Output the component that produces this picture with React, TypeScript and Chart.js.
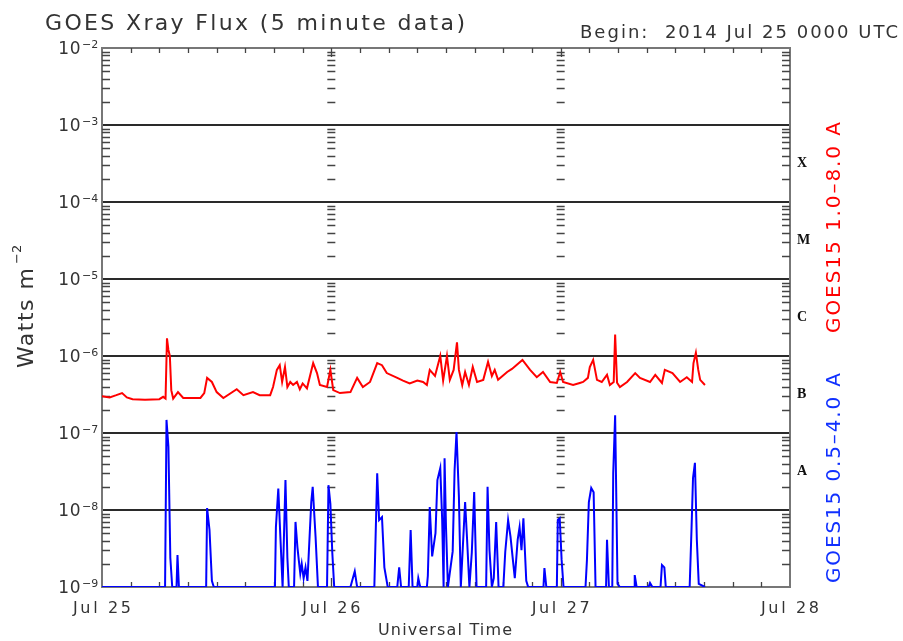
import React, { useEffect, useRef } from "react";
import { Chart, registerables } from "chart.js";

Chart.register(...registerables);

// ---- labels / ticks ----
const titleText = "GOES Xray Flux (5 minute data)";
const beginText = "Begin:  2014 Jul 25 0000 UTC";
const xAxisTitle = "Universal Time";
const dayLabels = ["Jul 25", "Jul 26", "Jul 27", "Jul 28"];
const dayTicks = [0, 24, 48, 72]; // hours since 2014-07-25 00:00 UTC
const decadeExponents = [-9, -8, -7, -6, -5, -4, -3, -2];
const classLabels = ["A", "B", "C", "M", "X"];
const classCenters = [3.16e-8, 3.16e-7, 3.16e-6, 3.16e-5, 3.16e-4];
const longLabel = "GOES15 1.0\u20138.0 A";
const shortLabel = "GOES15 0.5\u20134.0 A";

// ---- GOES15 1.0-8.0 A (long channel), hours / W m^-2 ----
const longTimes = [
  0, 0.8, 1.5, 2.1, 2.6, 3.2, 4.5, 6.0, 6.4, 6.65,
  6.8, 6.95, 7.1, 7.25, 7.45, 7.95, 8.5, 10.3, 10.7, 11.0,
  11.5, 12.0, 12.7, 14.1, 14.8, 15.8, 16.5, 17.6, 17.9, 18.3,
  18.6, 18.85, 19.15, 19.4, 19.7, 20.0, 20.4, 20.7, 21.0, 21.45,
  22.1, 22.5, 22.8, 23.55, 23.9, 24.2, 24.9, 26.0, 26.7, 27.3,
  28.05, 28.8, 29.3, 29.8, 30.9, 31.5, 32.2, 33.0, 33.6, 34.0,
  34.3, 34.85, 35.4, 35.7, 36.1, 36.4, 36.8, 37.15, 37.35, 37.7,
  38.0, 38.4, 38.8, 39.25, 39.9, 40.4, 40.8, 41.1, 41.45, 42.4,
  42.9, 44.0, 44.8, 45.5, 46.15, 46.9, 47.6, 47.95, 48.25, 49.3,
  50.0, 50.35, 50.85, 51.05, 51.4, 51.8, 52.3, 52.85, 53.15, 53.55,
  53.7, 53.9, 54.2, 54.95, 55.8, 56.3, 57.35, 57.9, 58.6, 58.9,
  59.7, 60.5, 61.2, 61.75, 61.9, 62.15, 62.4, 62.6, 63.1,
];
const longFlux = [
  3.0e-7, 2.9e-7, 3.1e-7, 3.3e-7, 2.9e-7, 2.75e-7, 2.7e-7, 2.75e-7, 2.95e-7, 2.8e-7,
  1.7e-6, 1.2e-6, 1.0e-6, 3.6e-7, 2.8e-7, 3.4e-7, 2.85e-7, 2.85e-7, 3.3e-7, 5.2e-7,
  4.6e-7, 3.4e-7, 2.85e-7, 3.7e-7, 3.1e-7, 3.4e-7, 3.1e-7, 3.1e-7, 3.95e-7, 6.6e-7,
  7.6e-7, 4.6e-7, 7.2e-7, 3.95e-7, 4.6e-7, 4.2e-7, 4.6e-7, 3.7e-7, 4.4e-7, 3.8e-7,
  8.1e-7, 6.0e-7, 4.2e-7, 3.95e-7, 6.6e-7, 3.6e-7, 3.3e-7, 3.4e-7, 5.2e-7, 3.95e-7,
  4.6e-7, 8.1e-7, 7.6e-7, 6.0e-7, 5.2e-7, 4.8e-7, 4.4e-7, 4.8e-7, 4.6e-7, 4.2e-7,
  6.6e-7, 5.5e-7, 1.0e-6, 4.8e-7, 1.0e-6, 4.9e-7, 6.6e-7, 1.5e-6, 6.6e-7, 4.2e-7,
  6.2e-7, 4.2e-7, 7.2e-7, 4.6e-7, 4.9e-7, 8.4e-7, 5.5e-7, 6.6e-7, 4.9e-7, 6.2e-7,
  6.8e-7, 8.9e-7, 6.6e-7, 5.3e-7, 6.2e-7, 4.6e-7, 4.46e-7, 6.2e-7, 4.6e-7, 4.2e-7,
  4.46e-7, 4.6e-7, 5.2e-7, 7.2e-7, 8.9e-7, 4.9e-7, 4.6e-7, 5.7e-7, 4.2e-7, 4.6e-7,
  1.9e-6, 4.5e-7, 3.95e-7, 4.6e-7, 6.0e-7, 5.2e-7, 4.6e-7, 5.7e-7, 4.46e-7, 6.6e-7,
  6.0e-7, 4.6e-7, 5.3e-7, 4.6e-7, 8.1e-7, 1.1e-6, 6.6e-7, 4.9e-7, 4.2e-7,
];

// ---- GOES15 0.5-4.0 A (short channel), hours / W m^-2 ----
const shortTimes = [
  0, 6.6, 6.75, 6.95, 7.15, 7.35, 7.8, 7.9, 8.05, 10.9,
  11.0, 11.25, 11.5, 11.7, 18.1, 18.2, 18.45, 18.65, 18.9, 19.2,
  19.4, 19.55, 20.1, 20.25, 20.45, 20.6, 20.75, 20.9, 21.1, 21.3,
  21.5, 21.9, 22.05, 22.35, 22.6, 23.55, 23.7, 23.9, 24.1, 24.3,
  26.0, 26.45, 26.7, 28.5, 28.8, 29.0, 29.3, 29.55, 29.9, 30.9,
  31.1, 31.3, 32.1, 32.3, 32.5, 33.0, 33.1, 33.3, 34.0, 34.1,
  34.3, 34.55, 34.9, 35.1, 35.4, 35.6, 35.75, 35.85, 36.0, 36.2,
  36.7, 36.9, 37.1, 37.35, 37.55, 38.0, 38.2, 38.45, 38.7, 38.95,
  39.2, 40.2, 40.35, 40.55, 40.8, 41.0, 41.25, 41.5, 42.0, 42.2,
  42.5, 42.75, 43.0, 43.2, 43.5, 43.7, 43.9, 44.1, 44.4, 44.6,
  46.2, 46.3, 46.5, 47.6, 47.7, 47.9, 48.1, 48.3, 50.6, 50.75,
  50.95, 51.2, 51.45, 51.65, 52.75, 52.85, 53.05, 53.4, 53.5, 53.7,
  53.95, 54.2, 55.7, 55.75, 55.95, 57.2, 57.35, 57.6, 58.45, 58.6,
  58.85, 59.0, 61.5, 61.7, 61.85, 62.05, 62.25, 62.45, 63.1,
];
const shortFlux = [
  1e-9, 1e-9, 1.48e-7, 6.6e-8, 2.4e-9, 1e-9, 1e-9, 2.6e-9, 1e-9, 1e-9,
  1.06e-8, 5.5e-9, 1.2e-9, 1e-9, 1e-9, 6.0e-9, 1.9e-8, 5.0e-9, 1e-9, 2.45e-8,
  2.4e-9, 1e-9, 1e-9, 7.0e-9, 3.3e-9, 2.2e-9, 1.5e-9, 2.0e-9, 1.3e-9, 1.8e-9,
  1.2e-9, 1.27e-8, 2.0e-8, 4.5e-9, 1e-9, 1e-9, 2.1e-8, 1.2e-8, 2.8e-9, 1e-9,
  1e-9, 1.6e-9, 1e-9, 1e-9, 3.0e-8, 7.4e-9, 8.1e-9, 1.8e-9, 1e-9, 1e-9,
  1.8e-9, 1e-9, 1e-9, 5.5e-9, 1e-9, 1e-9, 1.3e-9, 1e-9, 1e-9, 1.4e-9,
  1.09e-8, 2.5e-9, 5.0e-9, 2.45e-8, 3.5e-8, 7.4e-9, 1e-9, 4.7e-8, 6e-9, 1e-9,
  2.9e-9, 3.3e-8, 1.03e-7, 1.5e-8, 1e-9, 1.27e-8, 4.3e-9, 1e-9, 2.8e-9, 1.71e-8,
  1e-9, 1e-9, 2.0e-8, 3.0e-9, 1e-9, 1.3e-9, 7.0e-9, 1e-9, 1e-9, 2.85e-9,
  7.4e-9, 4.5e-9, 2.25e-9, 1.3e-9, 4.1e-9, 6.0e-9, 3.0e-9, 7.8e-9, 1.2e-9, 1e-9,
  1e-9, 1.76e-9, 1e-9, 1e-9, 7.4e-9, 7.8e-9, 2.25e-9, 1e-9, 1e-9, 2.25e-9,
  1.27e-8, 1.93e-8, 1.7e-8, 1e-9, 1e-9, 4.1e-9, 1e-9, 1e-9, 3.0e-8, 1.7e-7,
  1.1e-9, 1e-9, 1e-9, 1.43e-9, 1e-9, 1e-9, 1.13e-9, 1e-9, 1e-9, 1.93e-9,
  1.8e-9, 1e-9, 1e-9, 6.0e-9, 2.6e-8, 4.1e-8, 4.1e-9, 1.1e-9, 1e-9,
];

const minorHours = [3, 6, 9, 12, 15, 18, 21, 24, 27, 30, 33, 36, 39, 42, 45, 48, 51, 54, 57, 60, 63, 66, 69];
const minorMultipliers = [2, 3, 4, 5, 6, 7, 8, 9];
const dayBoundaries = [24, 48];

const TEXT = "#333";
const FONT = '"DejaVu Sans", sans-serif';

function fitText(ctx: CanvasRenderingContext2D, text: string, x: number, y: number, width: number) {
  (ctx as any).letterSpacing = "0px";
  const w = ctx.measureText(text).width;
  const n = Array.from(text).length;
  const sp = n > 1 ? (width - w) / (n - 1) : 0;
  (ctx as any).letterSpacing = `${sp}px`;
  ctx.textAlign = "left";
  ctx.fillText(text, x, y);
  (ctx as any).letterSpacing = "0px";
}

const decorPlugin = {
  id: "goesDecor",
  beforeDatasetsDraw(chart: any) {
    const { ctx, chartArea: a, scales } = chart;
    const xs = scales.x;
    const ys = scales.y;
    ctx.save();
    ctx.strokeStyle = "#444";
    ctx.lineWidth = 1.3;
    ctx.beginPath();
    for (let e = -9; e < -2; e++) {
      for (const k of minorMultipliers) {
        const py = Math.round(ys.getPixelForValue(k * Math.pow(10, e))) + 0.5;
        ctx.moveTo(a.left, py);
        ctx.lineTo(a.left + 8, py);
        ctx.moveTo(a.right - 8, py);
        ctx.lineTo(a.right, py);
        for (const d of dayBoundaries) {
          const px = xs.getPixelForValue(d);
          ctx.moveTo(px - 4, py);
          ctx.lineTo(px + 4, py);
        }
      }
    }
    for (const h of minorHours) {
      const px = Math.round(xs.getPixelForValue(h)) + 0.5;
      const len = dayBoundaries.includes(h) ? 9 : 5;
      ctx.moveTo(px, a.top);
      ctx.lineTo(px, a.top + len);
      ctx.moveTo(px, a.bottom);
      ctx.lineTo(px, a.bottom - len);
    }
    ctx.stroke();
    ctx.restore();
  },
  afterDraw(chart: any) {
    const { ctx, chartArea: a, scales } = chart;
    const xs = scales.x;
    const ys = scales.y;
    ctx.save();
    ctx.fillStyle = TEXT;
    ctx.textBaseline = "alphabetic";

    // title and begin
    ctx.font = `22px ${FONT}`;
    fitText(ctx, titleText, 45, 30, 420);
    ctx.font = `18px ${FONT}`;
    fitText(ctx, beginText, 580, 38, 318);

    // y tick labels 10^n
    for (const e of decadeExponents) {
      const py = ys.getPixelForValue(Math.pow(10, e));
      ctx.font = `17px ${FONT}`;
      (ctx as any).letterSpacing = "0.5px";
      ctx.textAlign = "right";
      ctx.fillText("10", 81, py + 6);
      (ctx as any).letterSpacing = "0px";
      ctx.font = `11px ${FONT}`;
      ctx.textAlign = "left";
      ctx.fillText("\u2212" + Math.abs(e), 82, py);
    }

    // x tick labels
    ctx.font = `16px ${FONT}`;
    dayTicks.forEach((t, i) => {
      const px = xs.getPixelForValue(t);
      fitText(ctx, dayLabels[i], px - 29, 613, 58);
    });
    ctx.font = `16px ${FONT}`;
    fitText(ctx, xAxisTitle, 378, 635, 134);

    // flare class labels
    ctx.font = 'bold 14px "Liberation Serif", serif';
    ctx.fillStyle = "#111";
    ctx.textAlign = "left";
    ctx.textBaseline = "middle";
    classLabels.forEach((c, i) => {
      const py = ys.getPixelForValue(classCenters[i]);
      ctx.fillText(c, a.right + 7, py);
    });

    // y axis title (rotated)
    ctx.save();
    ctx.translate(33, 368);
    ctx.rotate(-Math.PI / 2);
    ctx.fillStyle = TEXT;
    ctx.textBaseline = "alphabetic";
    ctx.font = `22px ${FONT}`;
    fitText(ctx, "Watts m", 0, 0, 100);
    ctx.font = `13px ${FONT}`;
    ctx.textAlign = "left";
    ctx.fillText("\u22122", 104, -12);
    ctx.restore();

    // right rotated series labels
    ctx.textBaseline = "alphabetic";
    ctx.font = `20px ${FONT}`;
    ctx.save();
    ctx.translate(840, 333);
    ctx.rotate(-Math.PI / 2);
    ctx.fillStyle = "#ff0000";
    fitText(ctx, longLabel, 0, 0, 211);
    ctx.restore();
    ctx.save();
    ctx.translate(840, 583);
    ctx.rotate(-Math.PI / 2);
    ctx.fillStyle = "#1030ff";
    fitText(ctx, shortLabel, 0, 0, 210);
    ctx.restore();

    ctx.restore();
  },
};

const isEdgeDecade = (v: number) => {
  const l = Math.log10(v);
  return Math.abs(l + 9) < 0.01 || Math.abs(l + 2) < 0.01;
};

export default function App() {
  const ref = useRef<HTMLCanvasElement>(null);
  useEffect(() => {
    document.body.style.margin = "0";
    const canvas = ref.current!;
    const chart = new Chart(canvas, {
      type: "line",
      data: {
        datasets: [
          {
            label: longLabel,
            data: longTimes.map((t, i) => ({ x: t, y: longFlux[i] })),
            borderColor: "#ff0000",
            borderWidth: 2,
            pointRadius: 0,
            tension: 0,
          },
          {
            label: shortLabel,
            data: shortTimes.map((t, i) => ({ x: t, y: shortFlux[i] })),
            borderColor: "#0000ff",
            borderWidth: 2,
            pointRadius: 0,
            tension: 0,
          },
        ],
      },
      options: {
        animation: false,
        responsive: false,
        maintainAspectRatio: false,
        layout: { padding: 0 },
        plugins: {
          legend: { display: false },
          tooltip: { enabled: false },
          title: { display: false },
        },
        scales: {
          x: {
            type: "linear",
            position: "bottom",
            min: 0,
            max: 72,
            ticks: { display: false },
            grid: { display: false },
            border: { display: true, color: "#777", width: 2 },
            afterFit: (s: any) => {
              s.height = 54;
            },
          },
          xTop: {
            type: "linear",
            position: "top",
            min: 0,
            max: 72,
            ticks: { display: false },
            grid: { display: false },
            border: { display: true, color: "#777", width: 2 },
            afterFit: (s: any) => {
              s.height = 48;
            },
          },
          y: {
            type: "logarithmic",
            position: "left",
            min: 1e-9,
            max: 1e-2,
            afterBuildTicks: (s: any) => {
              s.ticks = decadeExponents.map((e) => ({ value: Math.pow(10, e) }));
            },
            ticks: { display: false },
            grid: {
              drawTicks: false,
              lineWidth: 2,
              color: (c: any) => (c.tick && isEdgeDecade(c.tick.value) ? "rgba(0,0,0,0)" : "#2a2a2a"),
            },
            border: { display: true, color: "#777", width: 2 },
            afterFit: (s: any) => {
              s.width = 102;
            },
          },
          yRight: {
            type: "logarithmic",
            position: "right",
            min: 1e-9,
            max: 1e-2,
            ticks: { display: false },
            grid: { display: false },
            border: { display: true, color: "#777", width: 2 },
            afterFit: (s: any) => {
              s.width = 113;
            },
          },
        },
      } as any,
      plugins: [decorPlugin],
    });
    return () => chart.destroy();
  }, []);
  return (
    <div style={{ width: 903, height: 641, background: "#fff" }}>
      <canvas ref={ref} width={903} height={641} style={{ display: "block" }} />
    </div>
  );
}
